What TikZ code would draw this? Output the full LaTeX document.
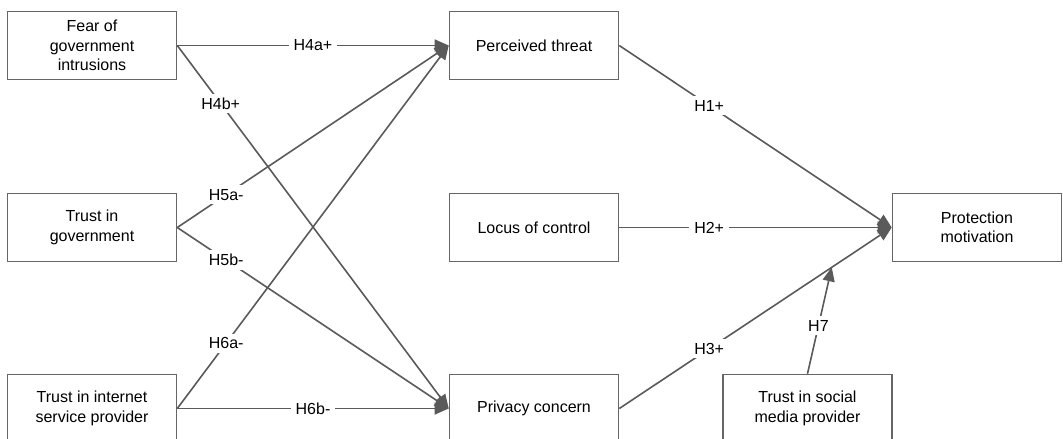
\documentclass[tikz,border=0pt]{standalone}
\usepackage{fontspec}
\setmainfont{Liberation Sans}
\usetikzlibrary{arrows.meta, positioning, calc}
\definecolor{linegray}{HTML}{5A5A5A}
\definecolor{boxgray}{HTML}{666666}
\tikzset{construct/.style = {draw = boxgray, line width = 1.6pt,
                             minimum width = 169pt, minimum height = 68pt,
                             align = center, inner sep = 0pt},
         link/.style = {draw = linegray, line width = 1.6pt,
                        -{Triangle[length = 14pt, width = 12pt]}},
         hyp/.style = {fill = white, inner xsep = 5pt, inner ysep = 4pt, text = black}}

\begin{document}
\begin{tikzpicture}[x = 1pt, y = -1pt, font = \fontsize{16}{19.5}\selectfont]
        \clip (0,0) rectangle (1063,439);

        \node[construct] (fear)     at (92,45.5)    {Fear of\\government\\intrusions};
        \node[construct] (trustgov) at (92,227.5)   {Trust in\\government};
        \node[construct] (trustisp) at (92,408.5)   {Trust in internet\\service provider};
        \node[construct] (threat)   at (534,45.5)   {Perceived threat};
        \node[construct] (locus)    at (534,227.5)  {Locus of control};
        \node[construct] (privacy)  at (534,408.5)  {Privacy concern};
        \node[construct] (protect)  at (977,227.5)  {Protection\\motivation};
        \node[construct] (social)   at (807.5,408.5) {Trust in social\\media provider};

        \coordinate (h7end) at ($(privacy.east)!0.78!(protect.west)$);

        \path (fear.east)     edge[link] node[hyp, pos = 0.5]  {H4a+} (threat.west);
        \path (fear.east)     edge[link] node[hyp, pos = 0.16] {H4b+} (privacy.west);
        \path (trustgov.east) edge[link] node[hyp, pos = 0.18] {H5a-} (threat.west);
        \path (trustgov.east) edge[link] node[hyp, pos = 0.18] {H5b-} (privacy.west);
        \path (trustisp.east) edge[link] node[hyp, pos = 0.18] {H6a-} (threat.west);
        \path (trustisp.east) edge[link] node[hyp, pos = 0.5]  {H6b-} (privacy.west);
        \path (threat.east)   edge[link] node[hyp, pos = 0.33] {H1+}  (protect.west);
        \path (locus.east)    edge[link] node[hyp, pos = 0.33] {H2+}  (protect.west);
        \path (privacy.east)  edge[link] node[hyp, pos = 0.33] {H3+}  (protect.west);
        \path (social.north)  edge[link] node[hyp, pos = 0.45] {H7}   (h7end);
\end{tikzpicture}
\end{document}
